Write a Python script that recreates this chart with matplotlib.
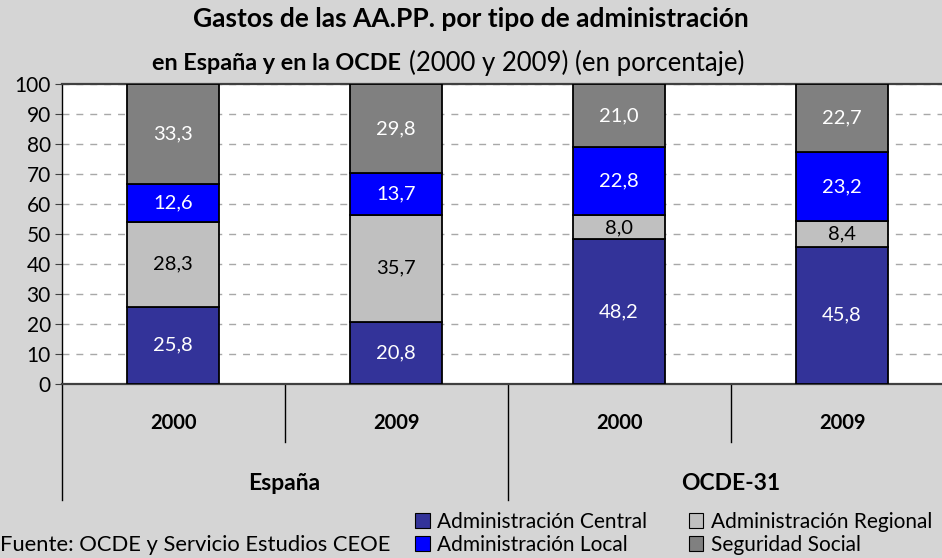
import numpy as np
import matplotlib
matplotlib.use("Agg")
import matplotlib.pyplot as plt
from matplotlib.patches import Patch
from matplotlib.transforms import blended_transform_factory



YEARS=["2000","2009","2000","2009"]
GROUPS=["España","OCDE-31"]

SERIES=[
	("Administración Central",[25.8,20.8,48.2,45.8],"#333399","white"),
	("Administración Regional",[28.3,35.7,8.0,8.4],"#C0C0C0","black"),
	("Administración Local",[12.6,13.7,22.8,23.2],"#0000FF","white"),
	("Seguridad Social",[33.3,29.8,21.0,22.7],"#808080","white"),
]

YTICKS=list(range(0,101,10))



plt.rcParams["font.family"]=["Lato","DejaVu Sans"]
fig=plt.figure(figsize=(9.42,5.58),dpi=100)
fig.patch.set_facecolor("#d5d5d5")
ax=fig.add_axes([62/942,1-384/558,880/942,300/558])
ax.set_facecolor("white")

x=np.arange(len(YEARS))
bottom=np.zeros(len(YEARS))
for name,vals,color,tcolor in SERIES:
	vals=np.array(vals)
	bars=ax.bar(x,vals,0.41,bottom=bottom,color=color,edgecolor="black",linewidth=1.3,zorder=3)
	for b,v in zip(bars,vals):
		ax.text(b.get_x()+b.get_width()/2,b.get_y()+v/2,f"{v:.1f}".replace(".",","),ha="center",va="center",color=tcolor,fontsize=14.5,zorder=4)
	bottom+=vals

ax.set_xlim(-0.498,3.448)
ax.set_ylim(0,100)
ax.set_yticks(YTICKS)
ax.set_yticklabels([str(t) for t in YTICKS],fontsize=15)
ax.set_xticks([])
ax.tick_params(axis="y",direction="out",length=5,color="#404040",pad=3)
ax.yaxis.grid(True,linestyle=(0,(5,5)),color="#a8a8a8",linewidth=1,zorder=0)
ax.set_axisbelow(True)
for s in ("top","bottom"):
	ax.spines[s].set_color("#404040")
	ax.spines[s].set_linewidth(1.6)
ax.spines["right"].set_visible(False)
ax.spines["left"].set_visible(False)

tr=blended_transform_factory(ax.transData,ax.transAxes)
ax.plot([-0.498,-0.498],[1,-0.387],transform=tr,color="black",linewidth=1,clip_on=False)
for xd,yb in [(0.5,-0.193),(1.5,-0.387),(2.5,-0.193)]:
	ax.plot([xd,xd],[0,yb],transform=tr,color="black",linewidth=1,clip_on=False)
for xi,yr in zip(x,YEARS):
	ax.text(xi,-0.13,yr,transform=tr,ha="center",va="center",fontsize=14.5,fontweight="bold")
for gi,g in enumerate(GROUPS):
	ax.text(0.5+2*gi,-0.33,g,transform=tr,ha="center",va="center",fontsize=16.5,fontweight="bold")

fig.text(471/942,1-19/558,"Gastos de las AA.PP. por tipo de administración",ha="center",va="center",fontsize=19,fontweight="bold")
fig.text(401/942,1-63/558,"en España y en la OCDE",ha="right",va="center",fontsize=16.8,fontweight="bold")
fig.text(409/942,1-63/558,"(2000 y 2009) (en porcentaje)",ha="left",va="center",fontsize=18.5)

fig.text(0.0,1-545/558,"Fuente: OCDE y Servicio Estudios CEOE",ha="left",va="center",fontsize=15.8)

handles=[Patch(facecolor=c,edgecolor="black",linewidth=0.8) for _,_,c,_ in SERIES]
labels=[n for n,_,_,_ in SERIES]
order=[0,2,1,3]
fig.legend([handles[i] for i in order],[labels[i] for i in order],ncol=2,loc="lower right",bbox_to_anchor=(1.005,-0.02),frameon=False,fontsize=15,handlelength=0.7,handleheight=0.7,handletextpad=0.35,columnspacing=2.0,labelspacing=0.12,borderpad=0.2)

fig.savefig("out.png",dpi=100,facecolor=fig.get_facecolor())
